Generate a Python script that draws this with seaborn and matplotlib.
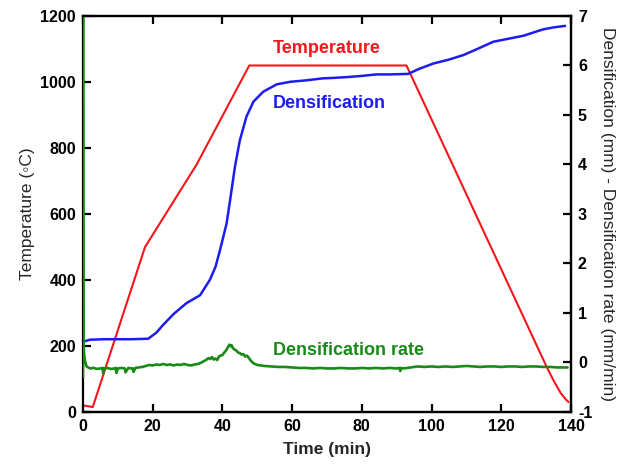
import matplotlib
matplotlib.use("Agg")
import matplotlib.pyplot as plt
import pandas as pd
import seaborn as sns

# Furnace temperature program (min, degC)
temp_time = [0, 2.8, 17.8, 32.6, 47.7, 92.8, 130, 133, 135, 137, 138.5, 139.3]
temp_value = [20, 15, 500, 750, 1050, 1050, 205, 137, 95, 58, 38, 30]

# Densification (mm)
dens_time = [0, 2, 6, 10, 14, 18.7, 21, 23, 26, 29.7, 33.6, 36.4, 38, 39.3,
             41.2, 42.2, 43.6, 45, 46.9, 48.9, 51.7, 55.6, 59.4, 64, 68.8,
             72, 76.6, 80, 84.2, 88, 93.3, 96, 100.5, 105, 109.1, 113, 117.7,
             122, 126.3, 132, 135, 138.3]
dens_value = [0.42, 0.46, 0.47, 0.47, 0.47, 0.48, 0.60, 0.76, 0.98, 1.20,
              1.36, 1.67, 1.93, 2.27, 2.81, 3.28, 3.96, 4.49, 4.97, 5.27,
              5.47, 5.62, 5.67, 5.70, 5.74, 5.75, 5.77, 5.79, 5.82, 5.82,
              5.83, 5.92, 6.04, 6.12, 6.21, 6.33, 6.48, 6.54, 6.60, 6.73,
              6.77, 6.80]

# Densification rate (mm/min)
rate_time = [
    0, 0, 0.1, 0.5, 1, 2, 3, 4, 5, 5.6, 5.8, 6, 7, 8, 9, 9.4, 9.6, 10,
    11, 12, 12.2, 13, 14, 14.3, 14.5, 15, 16, 17, 18, 19, 20, 21, 22, 23,
    24, 25, 26, 27, 28, 29, 30, 31, 32, 33, 34, 35, 35.5, 36, 36.5, 37,
    37.5, 38, 38.5, 39, 39.5, 40, 40.5, 41, 41.5, 42, 42.3, 42.6, 43, 43.5,
    44, 44.5, 45, 45.5, 46, 46.5, 47, 47.5, 48, 48.5, 49, 50, 51, 52,
    54, 56, 58, 60, 62, 64, 66, 68, 70, 72, 74, 76, 78, 80, 82, 84,
    86, 88, 90, 90.8, 91, 91.2, 92, 94, 96, 98, 100, 102, 104, 106,
    108, 110, 112, 114, 116, 118, 120, 122, 124, 126, 128, 130, 132, 134,
    136, 138, 139,
]
rate_value = [
    -0.30, 7.50, 0.35, 0.05, -0.08, -0.12, -0.11, -0.13, -0.12, -0.11,
    -0.22, -0.12, -0.11, -0.13, -0.12, -0.11, -0.21, -0.12,
    -0.11, -0.12, -0.20, -0.11, -0.12, -0.12, -0.19, -0.11, -0.10, -0.09,
    -0.07, -0.05, -0.06, -0.04, -0.05, -0.03,
    -0.05, -0.04, -0.06, -0.04, -0.05, -0.03, -0.05, -0.06, -0.04, -0.03,
    0.00, 0.04, 0.06, 0.09, 0.07, 0.11,
    0.06, 0.08, 0.05, 0.12, 0.14, 0.15, 0.20, 0.24, 0.30, 0.36, 0.33, 0.35,
    0.29, 0.26,
    0.24, 0.20, 0.19, 0.16, 0.17, 0.12, 0.14, 0.10, 0.05, 0.01, -0.02,
    -0.05, -0.06, -0.07,
    -0.08, -0.09, -0.09, -0.10, -0.11, -0.11, -0.12, -0.11, -0.12, -0.12,
    -0.11, -0.12, -0.12, -0.11, -0.12, -0.11,
    -0.12, -0.11, -0.12, -0.11, -0.17, -0.11, -0.12, -0.10, -0.08, -0.09,
    -0.08, -0.09, -0.08, -0.09,
    -0.08, -0.07, -0.08, -0.09, -0.08, -0.08, -0.09, -0.08, -0.08, -0.09,
    -0.08, -0.08, -0.09, -0.09, -0.10, -0.10, -0.10,
]

x_ticks = [0, 20, 40, 60, 80, 100, 120, 140]
temp_ticks = [0, 200, 400, 600, 800, 1000, 1200]
right_ticks = [-1, 0, 1, 2, 3, 4, 5, 6, 7]

RED = "#f5161b"
BLUE = "#1c1cf0"
GREEN = "#178a17"

sns.set_theme(style="ticks")
plt.rcParams["font.family"] = ["Liberation Sans", "DejaVu Sans"]
plt.rcParams["axes.linewidth"] = 1.6

temp_df = pd.DataFrame({"time": temp_time, "temp": temp_value})
dens_df = pd.DataFrame({"time": dens_time, "dens": dens_value})
rate_df = pd.DataFrame({"time": rate_time, "rate": rate_value})

fig = plt.figure(figsize=(6.18, 4.65), dpi=100)
ax = fig.add_axes([0.1343, 0.114, 0.7897, 0.8516])
ax2 = ax.twinx()

sns.lineplot(data=temp_df, x="time", y="temp", ax=ax, color=RED,
             linewidth=1.5, estimator=None, sort=False)
sns.lineplot(data=dens_df, x="time", y="dens", ax=ax2, color=BLUE,
             linewidth=1.8, estimator=None, sort=False)
sns.lineplot(data=rate_df, x="time", y="rate", ax=ax2, color=GREEN,
             linewidth=1.9, estimator=None, sort=False)

ax.set_xlim(0, 140)
ax.set_ylim(0, 1200)
ax2.set_ylim(-1, 7)
ax.set_xticks(x_ticks)
ax.set_yticks(temp_ticks)
ax2.set_yticks(right_ticks)

tick_font = dict(fontsize=11.5, fontweight="bold")
ax.set_xticklabels([str(v) for v in x_ticks], **tick_font)
ax.set_yticklabels([str(v) for v in temp_ticks], **tick_font)
ax2.set_yticklabels([str(v) for v in right_ticks], **tick_font)

ax.tick_params(axis="both", direction="in", length=6, width=1.6,
               colors="black", pad=5, top=True, bottom=True, left=True,
               right=False)
ax2.tick_params(axis="y", direction="in", length=6, width=1.6,
                colors="black", pad=5)
ax2.spines["left"].set_visible(False)
for sp in ax.spines.values():
    sp.set_color("black")
for sp in ax2.spines.values():
    sp.set_color("black")

ax.set_xlabel("Time (min)", fontsize=12.5, fontweight="bold", labelpad=6)
ax.set_ylabel("Temperature (\u25e6C)", fontsize=12.5, labelpad=4)
ax2.set_ylabel("Densification (mm) - Densification rate (mm/min)",
               fontsize=12.5, rotation=-90, labelpad=16)

ax.text(54.5, 1088, "Temperature", color=RED, fontsize=13,
        fontweight="bold", ha="left", va="baseline")
ax2.text(54.5, 5.14, "Densification", color=BLUE, fontsize=13,
         fontweight="bold", ha="left", va="baseline")
ax2.text(54.5, 0.15, "Densification rate", color=GREEN, fontsize=13,
         fontweight="bold", ha="left", va="baseline")

fig.savefig("out.png", dpi=100, facecolor="white")
